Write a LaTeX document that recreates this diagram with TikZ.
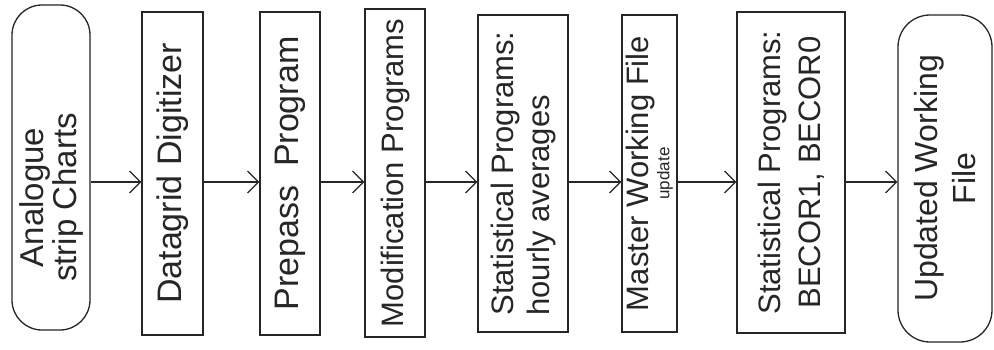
\documentclass[tikz,border=0pt]{standalone}
\usepackage{fontspec}
\setmainfont{Liberation Sans}
\usetikzlibrary{arrows.meta}
\tikzset{
  flowbox/.style={draw=black!85, line width=1.3pt, rotate=90, inner sep=0pt,
    align=center, text=black!85},
  termbox/.style={flowbox, rounded corners=30pt},
  arr/.style={draw=black!85, line width=1.2pt,
    -{Straight Barb[length=11pt,width=22pt,line width=1.2pt]}}
}
\newcommand{\fsz}[2]{\fontsize{#1}{#2}\selectfont}
\begin{document}
\begin{tikzpicture}[x=1pt,y=1pt]
\useasboundingbox (0,0) rectangle (994,349);
\fill[white] (0,0) rectangle (994,349);
\coordinate (lev) at (0,167);
\node[termbox, minimum width=325pt, minimum height=78pt, font=\fsz{33}{33}] (a) at (51,181.5)
  {Analogue\hspace*{60pt}\\strip Charts\hspace*{60pt}};
\node[flowbox, minimum width=323pt, minimum height=61pt, font=\fsz{34}{38}] (b) at (172.5,175.5)
  {Datagrid Digitizer};
\node[flowbox, minimum width=323pt, minimum height=60pt, font=\fsz{34}{38}] (c) at (290,175.5)
  {Prepass\ \ Program};
\node[flowbox, minimum width=328pt, minimum height=60pt, font=\fsz{31}{36}] (d) at (395,176)
  {Modification Programs};
\node[flowbox, minimum width=317pt, minimum height=90pt, font=\fsz{31}{36}, align=left] (e) at (523,175.5)
  {Statistical Programs:\\hourly averages};
\node[flowbox, minimum width=317pt, minimum height=55pt, font=\fsz{31}{21}] (f) at (649.5,175.5)
  {Master Working File\\{\fsz{17}{17}update}};
\node[flowbox, minimum width=321pt, minimum height=108pt, font=\fsz{31}{40}] (g) at (791,176.5)
  {Statistical Programs:\\BECOR1, BECOR0};
\node[termbox, rounded corners=32pt, minimum width=327pt, minimum height=94pt, font=\fsz{32}{38}] (h) at (945,170.5)
  {Updated Working\\File};
\draw[arr] (a.south |- lev) -- (b.north |- lev);
\draw[arr] (b.south |- lev) -- (c.north |- lev);
\draw[arr] (c.south |- lev) -- (d.north |- lev);
\draw[arr] (d.south |- lev) -- (e.north |- lev);
\draw[arr] (e.south |- lev) -- (f.north |- lev);
\draw[arr] (f.south |- lev) -- (g.north |- lev);
\draw[arr] (g.south |- lev) -- (h.north |- lev);
\end{tikzpicture}
\end{document}
